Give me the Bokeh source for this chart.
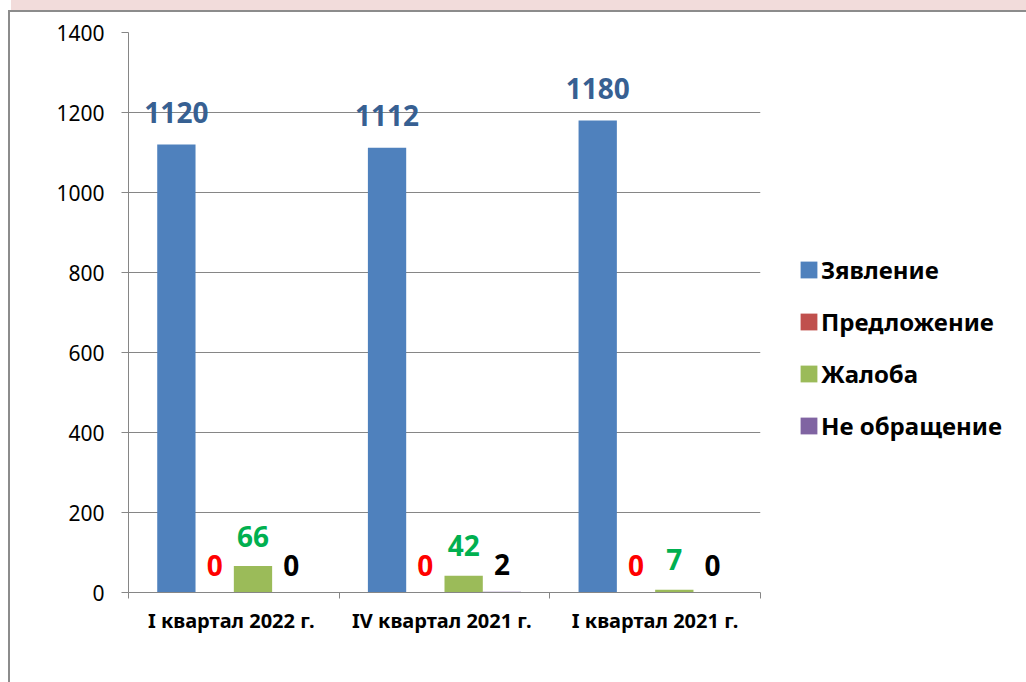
import numpy as np
from bokeh.plotting import figure
from bokeh.models import (ColumnDataSource, FixedTicker, Range1d, Legend,
                          LegendItem, InlineStyleSheet)
from bokeh.embed import file_html
from bokeh.resources import INLINE
from bokeh.core.properties import value

# ---------------- data ----------------
categories = ["I  квартал 2022 г.", "IV  квартал 2021 г.", "I квартал 2021 г."]
series_names = ["Зявление", "Предложение", "Жалоба", "Не обращение"]
zayavlenie = [1120, 1112, 1180]
predlozhenie = [0, 0, 0]
zhaloba = [66, 42, 7]
ne_obrashchenie = [0, 2, 0]
y_ticks = [0, 200, 400, 600, 800, 1000, 1200, 1400]

# ---------------- styles ----------------
series_values = [zayavlenie, predlozhenie, zhaloba, ne_obrashchenie]
bar_colors = ["#4F81BD", "#C0504D", "#9BBB59", "#8064A2"]
label_colors = ["#376092", "#FF0000", "#00B050", "#000000"]
label_offsets = [-32, -27, -30, -27]
FONT_NAME = "Noto Sans"
FONT = value(FONT_NAME)
GRAY = "#868686"

p = figure(frame_width=632, frame_height=560, output_backend="svg",
           toolbar_location=None, tools="",
           x_range=Range1d(0, len(categories)),
           y_range=Range1d(y_ticks[0], y_ticks[-1]),
           min_border_left=128, min_border_right=0,
           min_border_top=32, min_border_bottom=90)
p.outline_line_color = None
p.background_fill_color = "white"
p.border_fill_color = "white"

n_series = len(series_values)
slots = n_series + 1.5  # 150% gap width
bar_w = 1.0 / slots
idx = np.arange(len(categories))

renderers = []
for j, (vals, col) in enumerate(zip(series_values, bar_colors)):
    xs = idx + (0.75 + j + 0.5) / slots
    src = ColumnDataSource(dict(x=xs, top=vals, lab=[str(v) for v in vals]))
    r = p.vbar(x="x", top="top", bottom=0, width=bar_w, source=src,
               fill_color=col, line_color=None)
    renderers.append(r)
    p.text(x="x", y="top", text="lab", source=src, text_align="center",
           text_baseline="alphabetic", y_offset=label_offsets[j],
           text_font=FONT, text_font_style="bold", text_font_size="28px",
           text_color=label_colors[j])

# axes
p.xgrid.visible = False
p.ygrid.ticker = FixedTicker(ticks=y_ticks)
p.ygrid.grid_line_color = GRAY
p.ygrid.grid_line_width = 1

yax = p.yaxis[0]
yax.ticker = FixedTicker(ticks=y_ticks)
yax.axis_line_color = GRAY
yax.major_tick_line_color = GRAY
yax.major_tick_in = 0
yax.major_tick_out = 7
yax.minor_tick_line_color = None
yax.major_label_text_font = FONT_NAME
yax.major_label_text_font_size = "21px"
yax.major_label_text_color = "black"
yax.major_label_standoff = 17

xax = p.xaxis[0]
centers = [float(i) + 0.5 for i in idx]
xax.ticker = FixedTicker(ticks=centers, minor_ticks=[float(i) for i in range(len(categories) + 1)])
xax.major_label_overrides = {c: lab for c, lab in zip(centers, categories)}
xax.axis_line_color = GRAY
xax.major_tick_line_color = None
xax.minor_tick_line_color = GRAY
xax.minor_tick_in = 0
xax.minor_tick_out = 6
xax.major_label_text_font = FONT_NAME
xax.major_label_text_font_style = "bold"
xax.major_label_text_font_size = "20px"
xax.major_label_text_color = "black"
xax.major_label_standoff = 8

# legend (in the right side panel)
legend = Legend(items=[LegendItem(label=s, renderers=[r]) for s, r in zip(series_names, renderers)],
                location=(38, 150), glyph_width=21, glyph_height=21,
                label_height=30, spacing=19, padding=0, margin=0,
                border_line_color=None, background_fill_alpha=0,
                label_text_font=FONT_NAME, label_text_font_style="bold",
                label_text_font_size="24px", label_text_color="black",
                label_standoff=2)
p.add_layout(legend, "right")

# outer frame decoration (pink band + grey border)
css = """
:host { position: relative; }
:host::before { content: ""; position: absolute; left: 11px; top: 0; width: 1015px;
                height: 10px; background: #F2DCDB; z-index: 10; pointer-events: none; }
:host::after { content: ""; position: absolute; left: 8px; top: 10px; width: 1018px;
               height: 672px; border-left: 2px solid #8C8C8C; border-top: 2px solid #8C8C8C;
               box-sizing: border-box; z-index: 10; pointer-events: none; }
"""
p.stylesheets = [InlineStyleSheet(css=css)]

open("out.html", "w").write(file_html(p, INLINE))
